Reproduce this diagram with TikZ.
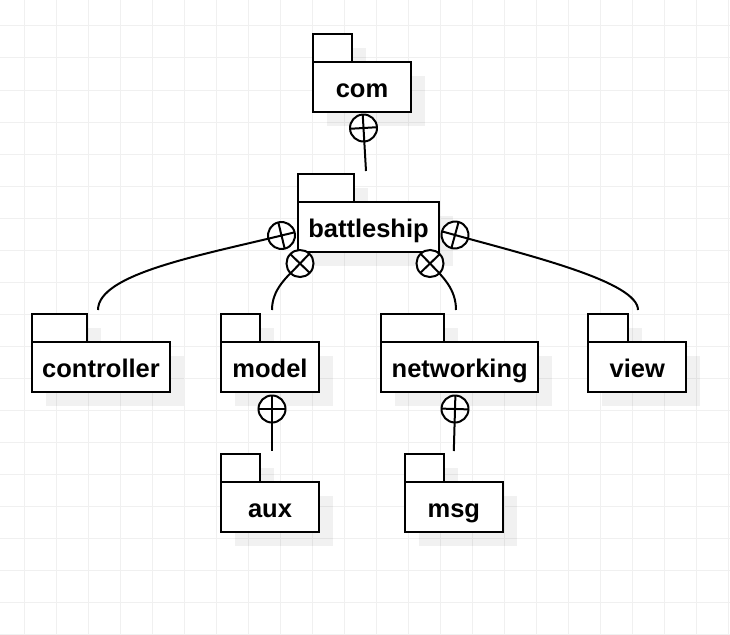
\documentclass[tikz,border=0pt]{standalone}
\usepackage{fontspec}
\setmainfont{Liberation Sans}
\usepackage{tikz}
\usetikzlibrary{calc,shadows}
\definecolor{gridgray}{RGB}{240,240,240}

\begin{document}
\begin{tikzpicture}[x=1pt, y=-1pt,
    pkgline/.style={draw, line width=2pt, fill=white,
        drop shadow={shadow xshift=14pt, shadow yshift=-14pt, fill=black, opacity=0.055}},
    pkg/.style={pkgline, rectangle, inner sep=0pt, minimum height=50pt,
        text height=21pt, text depth=1pt, font=\fontsize{25.5}{30}\selectfont\bfseries},
    link/.style={line width=2pt},
    nest/.style={circle, draw, line width=2pt, fill=white, inner sep=0pt,
        outer sep=0pt, minimum size=27pt, sloped, pos=0}]
    \useasboundingbox (0,0) rectangle (730,634);

    % Background grid
    \foreach \gx in {24,56,...,728} {
        \draw[gridgray, line width=1pt] (\gx,0) -- (\gx,634);
    }
    \foreach \gy in {26,58,...,634} {
        \draw[gridgray, line width=1pt] (0,\gy) -- (730,\gy);
    }

    % Packages (tab + body)
    \foreach \name/\x/\y/\w in {com/362/87/98, battleship/368.5/227/141,
        controller/101/367/138, model/270/367/98, networking/459.7/367/157,
        view/637.3/367/98, aux/270/507/98, msg/453.8/507/98} {
        \draw[pkgline] (\x-\w/2, \y-25) rectangle ++(0.4*\w, -28);
        \node[pkg, minimum width=\w] (\name) at (\x,\y) {\name};
    }

    % Nesting connectors
    \draw[link] ($(com.south)+(1.5,15)$) -- ($(battleship.north)+(-2.5,-30)$)
        node[nest] (m1) {};
    \draw[link] ($(battleship.west)+(-15.5,8.5)$) .. controls +(-82,20) and +(0,-36) ..
        ($(controller.north)+(-3,-31)$) node[nest] (m2) {};
    \draw[link] ($(battleship.south west)+(3,10.5)$) .. controls +(-13,13.5) and +(0,-21) ..
        ($(model.north)+(2,-31)$) node[nest] (m3) {};
    \draw[link] ($(battleship.south east)+(-10,10.5)$) .. controls +(13,13.5) and +(0,-21) ..
        ($(networking.north)+(-3.7,-31)$) node[nest] (m4) {};
    \draw[link] ($(battleship.east)+(15,8)$) .. controls +(76,21) and +(0,-28) ..
        ($(view.north)+(0.7,-31)$) node[nest] (m5) {};
    \draw[link] ($(model.south)+(2,16)$) -- ($(aux.north)+(2,-30)$)
        node[nest] (m6) {};
    \draw[link] ($(networking.south)+(-4.7,16)$) -- ($(msg.north)+(0,-30)$)
        node[nest] (m7) {};

    % Crosses in the circles
    \foreach \m in {m1,m2,m3,m4,m5,m6,m7} {
        \draw[link] (\m.north) -- (\m.south) (\m.east) -- (\m.west);
    }
\end{tikzpicture}
\end{document}
